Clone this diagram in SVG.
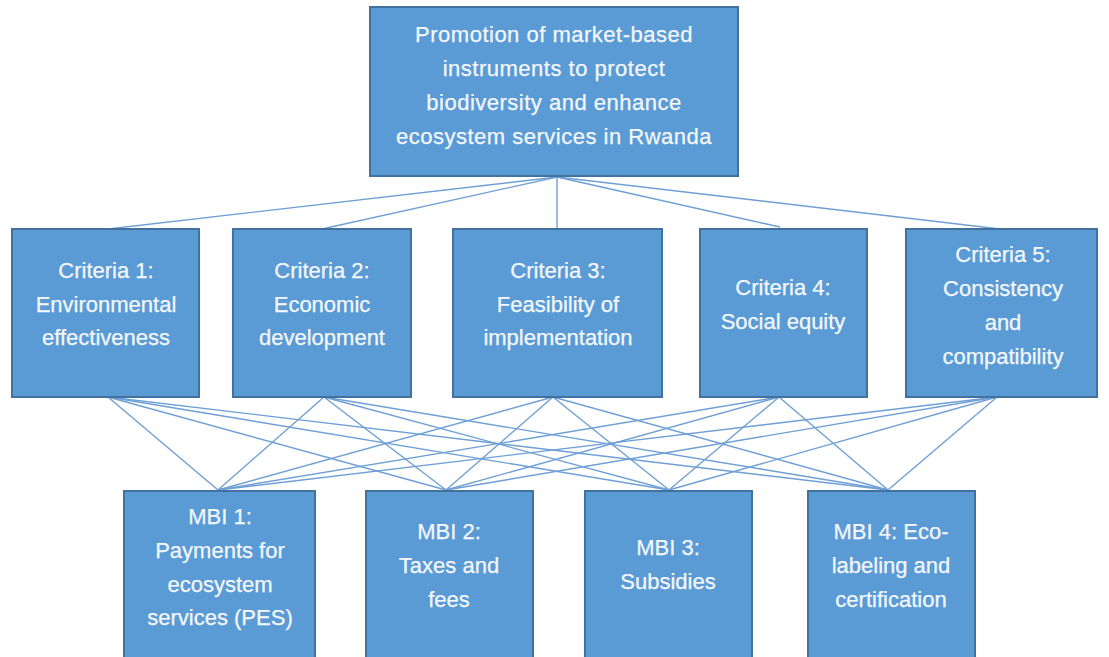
<svg xmlns="http://www.w3.org/2000/svg" width="1109" height="657" viewBox="0 0 1109 657">
<style>
.box{fill:#5B9BD5;stroke:#41719C;stroke-width:2}
.t{font-family:"Liberation Sans",Arial,sans-serif;font-size:22px;fill:#F4F7FB;text-anchor:middle;stroke:#F4F7FB;stroke-width:0.25}
.top{letter-spacing:0.5px}
.c line{stroke:#6E9FD6;stroke-width:1.4}
</style>
<rect width="1109" height="657" fill="#FFFFFF"/>
<g id="connectors" class="c">
<line x1="557" y1="177" x2="108" y2="229"/>
<line x1="557" y1="177" x2="322" y2="229"/>
<line x1="557" y1="177" x2="557" y2="229"/>
<line x1="557" y1="177" x2="780" y2="227"/>
<line x1="557" y1="177" x2="1000" y2="229"/>
<line x1="108" y1="397" x2="218" y2="490"/>
<line x1="108" y1="397" x2="446" y2="490"/>
<line x1="108" y1="397" x2="669" y2="490"/>
<line x1="108" y1="397" x2="888" y2="490"/>
<line x1="324" y1="397" x2="218" y2="490"/>
<line x1="324" y1="397" x2="446" y2="490"/>
<line x1="324" y1="397" x2="669" y2="490"/>
<line x1="324" y1="397" x2="888" y2="490"/>
<line x1="553" y1="397" x2="218" y2="490"/>
<line x1="553" y1="397" x2="446" y2="490"/>
<line x1="553" y1="397" x2="669" y2="490"/>
<line x1="553" y1="397" x2="888" y2="490"/>
<line x1="779" y1="397" x2="218" y2="490"/>
<line x1="779" y1="397" x2="446" y2="490"/>
<line x1="779" y1="397" x2="669" y2="490"/>
<line x1="779" y1="397" x2="888" y2="490"/>
<line x1="997" y1="397" x2="218" y2="490"/>
<line x1="997" y1="397" x2="446" y2="490"/>
<line x1="997" y1="397" x2="669" y2="490"/>
<line x1="997" y1="397" x2="888" y2="490"/>
</g>
<g id="goal">
<rect class="box" x="370" y="7" width="368" height="169"/>
<text class="t top" x="554" y="42">Promotion of market-based</text>
<text class="t top" x="554" y="76">instruments to protect</text>
<text class="t top" x="554" y="110">biodiversity and enhance</text>
<text class="t top" x="554" y="144">ecosystem services in Rwanda</text>
</g>
<g id="criteria1">
<rect class="box" x="12" y="229" width="187" height="168"/>
<text class="t" x="106" y="278">Criteria 1:</text>
<text class="t" x="106" y="312">Environmental</text>
<text class="t" x="106" y="345">effectiveness</text>
</g>
<g id="criteria2">
<rect class="box" x="233" y="229" width="178" height="168"/>
<text class="t" x="322" y="278">Criteria 2:</text>
<text class="t" x="322" y="312">Economic</text>
<text class="t" x="322" y="345">development</text>
</g>
<g id="criteria3">
<rect class="box" x="453" y="229" width="209" height="168"/>
<text class="t" x="558" y="278">Criteria 3:</text>
<text class="t" x="558" y="312">Feasibility of</text>
<text class="t" x="558" y="345">implementation</text>
</g>
<g id="criteria4">
<rect class="box" x="700" y="229" width="167" height="168"/>
<text class="t" x="783" y="295">Criteria 4:</text>
<text class="t" x="783" y="329">Social equity</text>
</g>
<g id="criteria5">
<rect class="box" x="906" y="229" width="191" height="168"/>
<text class="t" x="1003" y="262">Criteria 5:</text>
<text class="t" x="1003" y="296">Consistency</text>
<text class="t" x="1003" y="330">and</text>
<text class="t" x="1003" y="364">compatibility</text>
</g>
<g id="mbi1">
<rect class="box" x="124" y="491" width="191" height="170"/>
<text class="t" x="220" y="524">MBI 1:</text>
<text class="t" x="220" y="558">Payments for</text>
<text class="t" x="220" y="592">ecosystem</text>
<text class="t" x="220" y="625">services (PES)</text>
</g>
<g id="mbi2">
<rect class="box" x="366" y="491" width="167" height="170"/>
<text class="t" x="449" y="539">MBI 2:</text>
<text class="t" x="449" y="573">Taxes and</text>
<text class="t" x="449" y="607">fees</text>
</g>
<g id="mbi3">
<rect class="box" x="585" y="491" width="167" height="170"/>
<text class="t" x="668" y="555">MBI 3:</text>
<text class="t" x="668" y="589">Subsidies</text>
</g>
<g id="mbi4">
<rect class="box" x="808" y="491" width="167" height="170"/>
<text class="t" x="891" y="539">MBI 4: Eco-</text>
<text class="t" x="891" y="573">labeling and</text>
<text class="t" x="891" y="607">certification</text>
</g>
</svg>
